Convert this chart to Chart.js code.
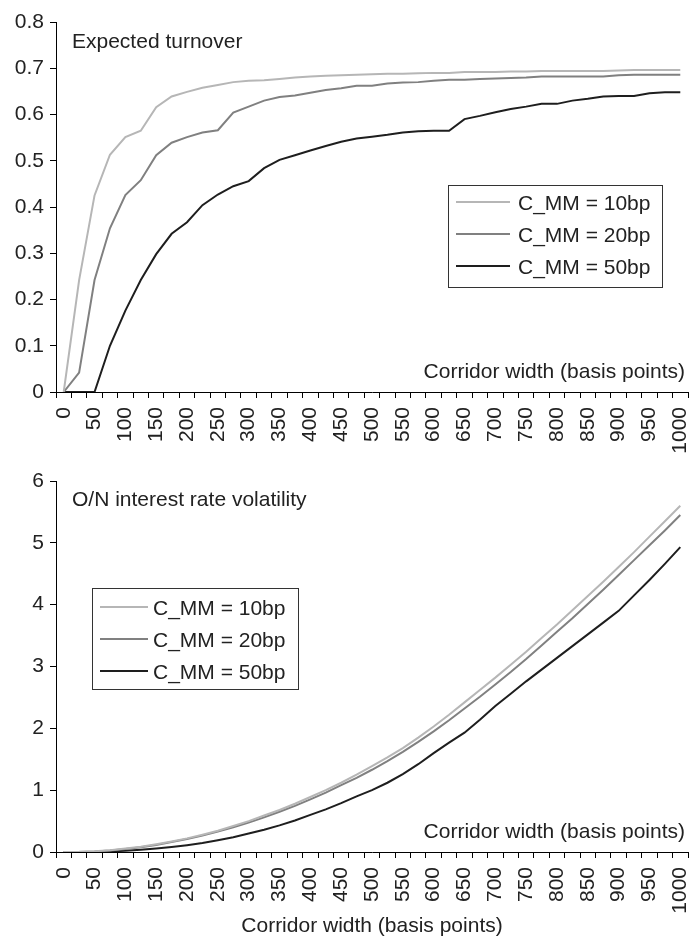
<!DOCTYPE html>
<html>
<head>
<meta charset="utf-8">
<script src="https://cdn.jsdelivr.net/npm/chart.js@4.4.0/dist/chart.umd.min.js"></script>
<style>
  html, body { margin: 0; padding: 0; background: #fff; }
  canvas { display: block; }
</style>
</head>
<body>
<canvas id="turnover" width="689" height="460"></canvas>
<canvas id="volatility" width="689" height="476"></canvas>
<script>
// corridor width in basis points (category axis, one label every 50)
const corridorWidths = ['0', '25', '50', '75', '100', '125', '150', '175', '200', '225',
  '250', '275', '300', '325', '350', '375', '400', '425', '450', '475', '500', '525',
  '550', '575', '600', '625', '650', '675', '700', '725', '750', '775', '800', '825',
  '850', '875', '900', '925', '950', '975', '1000'];

const seriesNames = ['C_MM = 10bp', 'C_MM = 20bp', 'C_MM = 50bp'];

// expected turnover
const turnover10 = [0, 0.242, 0.425, 0.513, 0.551, 0.565, 0.616, 0.639, 0.649, 0.658,
  0.664, 0.670, 0.673, 0.674, 0.677, 0.680, 0.682, 0.684, 0.685, 0.686, 0.687, 0.688,
  0.688, 0.689, 0.690, 0.690, 0.692, 0.692, 0.692, 0.693, 0.693, 0.694, 0.694, 0.694,
  0.694, 0.694, 0.695, 0.696, 0.696, 0.696, 0.696];
const turnover20 = [0, 0.042, 0.242, 0.354, 0.426, 0.458, 0.512, 0.539, 0.551, 0.561,
  0.566, 0.604, 0.617, 0.630, 0.638, 0.641, 0.647, 0.653, 0.657, 0.662, 0.662, 0.667,
  0.669, 0.670, 0.673, 0.675, 0.675, 0.677, 0.678, 0.679, 0.680, 0.682, 0.682, 0.682,
  0.682, 0.682, 0.685, 0.686, 0.686, 0.686, 0.686];
const turnover50 = [0, 0, 0, 0.100, 0.176, 0.242, 0.298, 0.342, 0.367, 0.404,
  0.427, 0.445, 0.456, 0.484, 0.502, 0.512, 0.522, 0.532, 0.541, 0.548, 0.552, 0.556,
  0.561, 0.564, 0.565, 0.565, 0.590, 0.597, 0.605, 0.612, 0.617, 0.623, 0.623, 0.630,
  0.634, 0.639, 0.640, 0.640, 0.646, 0.648, 0.648];

// O/N interest rate volatility
const volatility10 = [0, 0.003, 0.012, 0.030, 0.055, 0.085, 0.125, 0.170, 0.220, 0.280,
  0.345, 0.420, 0.500, 0.590, 0.680, 0.780, 0.890, 1.000, 1.120, 1.250, 1.390, 1.530,
  1.680, 1.850, 2.030, 2.220, 2.420, 2.620, 2.820, 3.030, 3.240, 3.460, 3.680, 3.910,
  4.140, 4.370, 4.610, 4.850, 5.100, 5.350, 5.600];
const volatility20 = [0, 0.002, 0.010, 0.026, 0.050, 0.078, 0.115, 0.160, 0.210, 0.265,
  0.330, 0.400, 0.475, 0.560, 0.650, 0.745, 0.850, 0.960, 1.080, 1.200, 1.330, 1.470,
  1.620, 1.780, 1.950, 2.130, 2.320, 2.510, 2.710, 2.910, 3.120, 3.340, 3.560, 3.780,
  4.010, 4.240, 4.480, 4.720, 4.960, 5.200, 5.450];
const volatility50 = [0, 0, 0.002, 0.008, 0.020, 0.035, 0.055, 0.080, 0.110, 0.145,
  0.190, 0.240, 0.300, 0.360, 0.430, 0.510, 0.600, 0.690, 0.790, 0.900, 1.000, 1.120,
  1.260, 1.420, 1.600, 1.770, 1.930, 2.140, 2.360, 2.560, 2.760, 2.950, 3.140, 3.330,
  3.520, 3.710, 3.900, 4.150, 4.400, 4.660, 4.930];

const turnoverTicks = [0, 0.1, 0.2, 0.3, 0.4, 0.5, 0.6, 0.7, 0.8];
const volatilityTicks = [0, 1, 2, 3, 4, 5, 6];

const FONT = '"Liberation Sans", Arial, Helvetica, sans-serif';
const TEXT = '#222';
const colors = ['#b6b6b6', '#808080', '#1e1e1e'];

// titles and boxed legend drawn inside the plot area
const panelText = {
	id: 'panelText',
	afterDraw(chart, args, opts) {
		const { ctx, chartArea: a } = chart;
		ctx.save();
		ctx.font = `21px ${FONT}`;
		ctx.fillStyle = TEXT;
		ctx.textBaseline = 'alphabetic';
		ctx.textAlign = 'left';
		ctx.fillText(opts.title, a.left + 16, a.top + opts.titleDy);
		ctx.textAlign = 'right';
		ctx.fillText(opts.note, a.right - 3, a.bottom - 14);

		const L = opts.legend;
		const x0 = a.left + L.x;
		const y0 = a.top + L.y;
		ctx.strokeStyle = '#333';
		ctx.lineWidth = 1;
		ctx.strokeRect(Math.round(x0) + 0.5, Math.round(y0) + 0.5, L.w, L.h);
		ctx.textAlign = 'left';
		chart.data.datasets.forEach((ds, i) => {
			const cy = y0 + L.first + i * 32;
			ctx.strokeStyle = ds.borderColor;
			ctx.lineWidth = ds.borderWidth;
			ctx.beginPath();
			ctx.moveTo(x0 + 8, cy);
			ctx.lineTo(x0 + 8 + L.line, cy);
			ctx.stroke();
			ctx.fillText(ds.label, x0 + L.text, cy + 8);
		});
		ctx.restore();
	},
};

const makeDatasets = (series) =>
	series.map((data, i) => ({
		label: seriesNames[i],
		data: data,
		borderColor: colors[i],
		backgroundColor: colors[i],
		borderWidth: 2,
		pointRadius: 0,
		tension: 0,
	}));

const makeChart = (canvasId, series, yTicks, xHeight, top, text, withTitle) => {
	const yMax = yTicks[yTicks.length - 1];
	return new Chart(document.getElementById(canvasId), {
		type: 'line',
		data: { labels: corridorWidths, datasets: makeDatasets(series) },
		plugins: [panelText],
		options: {
			responsive: false,
			animation: false,
			layout: { padding: { top: top, right: 1, left: 0, bottom: 0 } },
			plugins: {
				legend: { display: false },
				tooltip: { enabled: false },
				panelText: text,
			},
			scales: {
				x: {
					type: 'category',
					offset: true,
					border: { display: true, color: '#000', width: 1 },
					grid: { offset: true, drawOnChartArea: false, drawTicks: true, tickLength: 6, color: '#000' },
					ticks: {
						autoSkip: false,
						maxRotation: 90,
						minRotation: 90,
						padding: 9,
						color: TEXT,
						font: { family: FONT, size: 21 },
						callback: function (value) {
							const l = this.getLabelForValue(value);
							return Number(l) % 50 === 0 ? l : '';
						},
					},
					title: {
						display: withTitle,
						text: 'Corridor width (basis points)',
						color: TEXT,
						padding: { top: 0, bottom: -3 },
						font: { family: FONT, size: 21 },
					},
					afterFit: (scale) => {
						scale.height = xHeight;
						scale.paddingLeft = 0;
						scale.paddingRight = 0;
					},
				},
				y: {
					min: 0,
					max: yMax,
					border: { display: true, color: '#000', width: 1 },
					grid: { drawOnChartArea: false, drawTicks: true, tickLength: 6, color: '#000' },
					afterBuildTicks: (scale) => {
						scale.ticks = yTicks.map((v) => ({ value: v }));
					},
					ticks: {
						padding: 6,
						color: TEXT,
						font: { family: FONT, size: 21 },
						callback: (v) => (v === 0 || yMax > 1 ? String(v) : v.toFixed(1)),
					},
					afterFit: (scale) => {
						scale.width = 56;
					},
				},
			},
		},
	});
};

makeChart('turnover', [turnover10, turnover20, turnover50], turnoverTicks, 68, 22, {
	title: 'Expected turnover',
	titleDy: 26,
	note: 'Corridor width (basis points)',
	legend: { x: 392, y: 163, w: 214, h: 102, first: 17, line: 54, text: 70 },
}, false);

makeChart('volatility', [volatility10, volatility20, volatility50], volatilityTicks, 84, 21, {
	title: 'O/N interest rate volatility',
	titleDy: 25,
	note: 'Corridor width (basis points)',
	legend: { x: 36, y: 107, w: 206, h: 101, first: 19, line: 48, text: 61 },
}, true);
</script>
</body>
</html>
